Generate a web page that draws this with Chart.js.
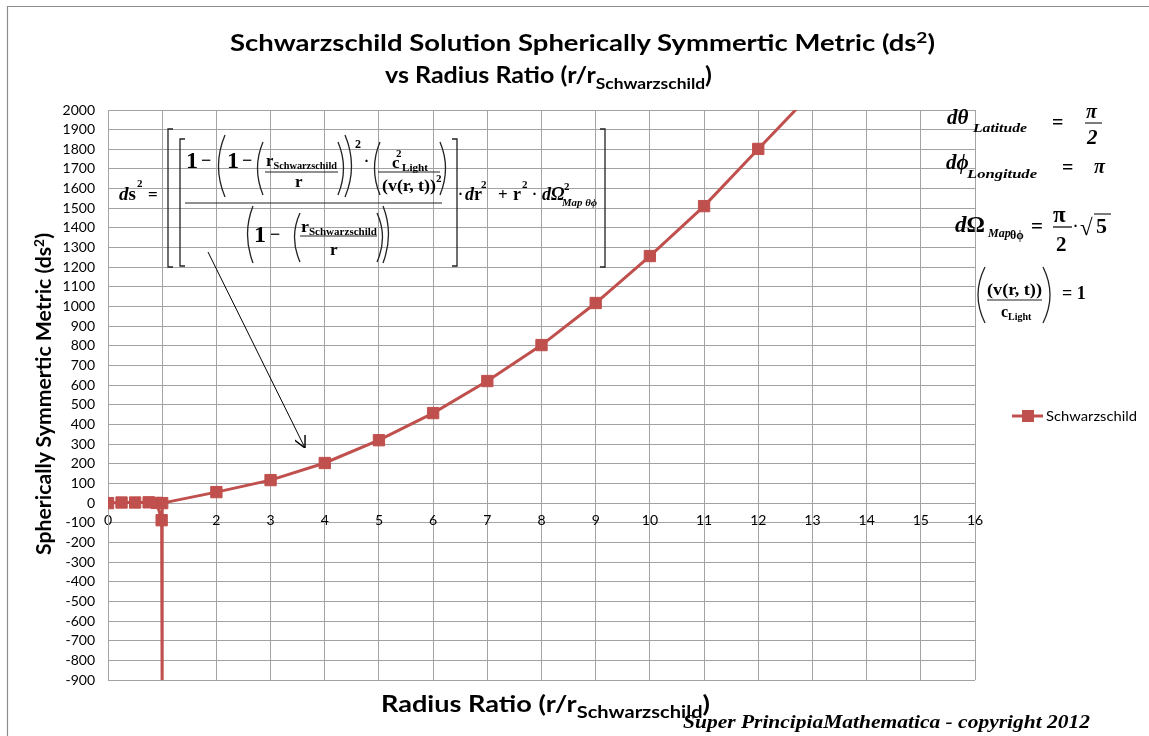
<!DOCTYPE html>
<html>
<head>
<meta charset="utf-8">
<script src="https://cdn.jsdelivr.net/npm/chart.js@4.4.1/dist/chart.umd.min.js"></script>
<style>
  html, body { margin: 0; padding: 0; background: #fff; }
  #wrap { position: relative; width: 1149px; height: 736px; overflow: hidden; }
  #graph { position: absolute; left: 0; top: 0; }
  #over { position: absolute; left: 0; top: 0; pointer-events: none; }
  .lbl { font-family: Lato, "Open Sans", sans-serif; font-weight: bold; fill: #000; }
  .mt { font-family: "Liberation Serif", "DejaVu Serif", serif; font-weight: bold; fill: #000; }
  .it { font-style: italic; }
  .pr { fill: none; stroke: #222; stroke-width: 1.3; }
</style>
</head>
<body>
<div id="wrap">
  <canvas id="graph" width="1149" height="736"></canvas>
  <svg id="over" width="1149" height="736" xmlns="http://www.w3.org/2000/svg">
    <defs>
      <marker id="flecha" viewBox="0 0 10 10" refX="10" refY="5" markerWidth="12" markerHeight="12" orient="auto" markerUnits="userSpaceOnUse">
        <path d="M0,0 L10,5 L0,10" fill="none" stroke="#000" stroke-width="1.2"/>
      </marker>
    </defs>
    <!-- marco exterior -->
    <path d="M7.5 736 V6.5 H1149" fill="none" stroke="#8c8c8c" stroke-width="1.2"/>

    <!-- titulo -->
    <text class="lbl" x="230" y="51" font-size="23" textLength="705" lengthAdjust="spacingAndGlyphs">Schwarzschild Solution Spherically Symmertic Metric (ds<tspan dy="-8" font-size="16">2</tspan><tspan dy="8">)</tspan></text>
    <text class="lbl" x="385" y="83" font-size="23" textLength="327" lengthAdjust="spacingAndGlyphs">vs Radius Ratio (r/r<tspan dy="6" font-size="16">Schwarzschild</tspan><tspan dy="-6">)</tspan></text>

    <!-- titulos de ejes -->
    <text class="lbl" font-size="20" x="0" y="0" textLength="322" lengthAdjust="spacingAndGlyphs" transform="translate(51,555) rotate(-90)">Spherically Symmertic Metric (ds<tspan dy="-7" font-size="13">2</tspan><tspan dy="7">)</tspan></text>
    <text class="lbl" x="381" y="712" font-size="23" textLength="329" lengthAdjust="spacingAndGlyphs">Radius Ratio (r/r<tspan dy="6" font-size="17">Schwarzschild</tspan><tspan dy="-6">)</tspan></text>

    <!-- leyenda -->
    <line x1="1012" y1="416" x2="1043" y2="416" stroke="#C0504D" stroke-width="3"/>
    <rect x="1022" y="410" width="12" height="12" fill="#C0504D"/>
    <text x="1046" y="421" font-family="Lato, sans-serif" font-size="14" fill="#000" textLength="91" lengthAdjust="spacingAndGlyphs">Schwarzschild</text>

    <!-- pie -->
    <text class="mt it" x="683" y="728" font-size="19" textLength="407" lengthAdjust="spacingAndGlyphs">Super PrincipiaMathematica - copyright 2012</text>

    <!-- flecha -->
    <line x1="208" y1="252" x2="305" y2="448" stroke="#000" stroke-width="1" marker-end="url(#flecha)"/>

    <!-- formula principal -->
    <text class="mt" x="119" y="200" font-size="19"><tspan class="it">d</tspan>s</text>
    <text class="mt" x="137" y="187" font-size="11">2</text>
    <text class="mt" x="148" y="200" font-size="17">=</text>
    <path class="pr" d="M173 129 H168 V267 H173"/>
    <path class="pr" d="M600 129 H605 V267 H600"/>
    <path class="pr" d="M185 139 H180 V266 H185"/>
    <path class="pr" d="M452 139 H457 V266 H452"/>

    <text class="mt" x="186" y="168" font-size="24">1</text>
    <text class="mt" x="201" y="166" font-size="18">−</text>
    <path class="pr" d="M225 135 Q212 166 225 197"/>
    <text class="mt" x="227" y="168" font-size="24">1</text>
    <text class="mt" x="242" y="166" font-size="18">−</text>
    <path class="pr" d="M263 142 Q252 168 263 195"/>
    <text class="mt" x="266" y="166" font-size="17" textLength="71" lengthAdjust="spacingAndGlyphs">r<tspan dy="3" font-size="10.5">Schwarzschild</tspan></text>
    <line x1="265" y1="172" x2="338" y2="172" stroke="#222" stroke-width="1.2"/>
    <text class="mt" x="295" y="187" font-size="17">r</text>
    <path class="pr" d="M338 142 Q349 168 338 195"/>
    <path class="pr" d="M345 135 Q358 166 345 197"/>
    <text class="mt" x="355" y="148" font-size="12">2</text>
    <text class="mt" x="364" y="166" font-size="15">·</text>
    <path class="pr" d="M380 142 Q369 168 380 195"/>
    <text class="mt" x="392" y="168" font-size="17">c</text>
    <text class="mt" x="396" y="157" font-size="11">2</text>
    <text class="mt" x="402" y="171" font-size="11" textLength="26" lengthAdjust="spacingAndGlyphs">Light</text>
    <line x1="378" y1="172" x2="440" y2="172" stroke="#222" stroke-width="1.2"/>
    <text class="mt" x="382" y="191" font-size="16" textLength="54" lengthAdjust="spacingAndGlyphs">(v(r, t))</text>
    <text class="mt" x="436" y="182" font-size="11">2</text>
    <path class="pr" d="M440 142 Q451 168 440 195"/>
    <line x1="185" y1="203" x2="442" y2="203" stroke="#222" stroke-width="1.2"/>

    <path class="pr" d="M253 206 Q242 234 253 263"/>
    <text class="mt" x="254" y="242" font-size="24">1</text>
    <text class="mt" x="270" y="240" font-size="18">−</text>
    <path class="pr" d="M300 213 Q289 237 300 262"/>
    <text class="mt" x="301" y="232" font-size="17" textLength="76" lengthAdjust="spacingAndGlyphs">r<tspan dy="3" font-size="10.5">Schwarzschild</tspan></text>
    <line x1="300" y1="236" x2="377" y2="236" stroke="#222" stroke-width="1.2"/>
    <text class="mt" x="330" y="255" font-size="17">r</text>
    <path class="pr" d="M377 213 Q388 237 377 262"/>
    <path class="pr" d="M383 206 Q394 234 383 263"/>

    <text class="mt" x="458" y="199" font-size="15">·</text>
    <text class="mt" x="465" y="200" font-size="18"><tspan class="it">d</tspan>r</text>
    <text class="mt" x="481" y="188" font-size="11">2</text>
    <text class="mt" x="498" y="200" font-size="17">+</text>
    <text class="mt" x="513" y="200" font-size="18">r</text>
    <text class="mt" x="522" y="188" font-size="11">2</text>
    <text class="mt" x="532" y="199" font-size="15">·</text>
    <text class="mt it" x="542" y="200" font-size="18">dΩ</text>
    <text class="mt" x="564" y="190" font-size="11">2</text>
    <text class="mt it" x="562" y="206" font-size="10" textLength="35" lengthAdjust="spacingAndGlyphs">Map θϕ</text>

    <!-- formulas a la derecha -->
    <text class="mt it" x="947" y="124" font-size="21">dθ</text>
    <text class="mt it" x="973" y="132" font-size="12" font-weight="normal" textLength="54" lengthAdjust="spacingAndGlyphs">Latitude</text>
    <text class="mt" x="1052" y="129" font-size="20" font-weight="normal">=</text>
    <text class="mt it" x="1086" y="118" font-size="20" font-weight="normal">π</text>
    <line x1="1085" y1="123" x2="1102" y2="123" stroke="#222" stroke-width="1.2"/>
    <text class="mt it" x="1087" y="144" font-size="21">2</text>

    <text class="mt it" x="946" y="169" font-size="21">dϕ</text>
    <text class="mt it" x="967" y="178" font-size="12" font-weight="normal" textLength="70" lengthAdjust="spacingAndGlyphs">Longitude</text>
    <text class="mt" x="1062" y="174" font-size="20" font-weight="normal">=</text>
    <text class="mt it" x="1094" y="173" font-size="20" font-weight="normal">π</text>

    <text class="mt" x="955" y="232" font-size="23"><tspan class="it">d</tspan>Ω</text>
    <text class="mt it" x="988" y="237" font-size="12" font-weight="normal">Map</text>
    <text class="mt" x="1010" y="239" font-size="12">θϕ</text>
    <text class="mt" x="1031" y="233" font-size="21">=</text>
    <text class="mt" x="1053" y="222" font-size="23">π</text>
    <line x1="1053" y1="227" x2="1072" y2="227" stroke="#222" stroke-width="1.4"/>
    <text class="mt" x="1056" y="251" font-size="21">2</text>
    <text class="mt" x="1073" y="231" font-size="15">·</text>
    <text class="mt" x="1080" y="235" font-size="23" font-weight="normal">√</text>
    <line x1="1094" y1="214" x2="1111" y2="214" stroke="#222" stroke-width="1.2"/>
    <text class="mt" x="1096" y="233" font-size="22">5</text>

    <path class="pr" d="M985 267 Q971 295 985 323"/>
    <text class="mt" x="987" y="295" font-size="16" textLength="55" lengthAdjust="spacingAndGlyphs">(v(r, t))</text>
    <line x1="987" y1="300" x2="1042" y2="300" stroke="#222" stroke-width="1.2"/>
    <text class="mt" x="1001" y="317" font-size="16">c<tspan dy="3" font-size="10">Light</tspan></text>
    <path class="pr" d="M1043 267 Q1057 295 1043 323"/>
    <text class="mt" x="1062" y="299" font-size="18">= 1</text>
  </svg>
</div>
<script>
// r / r_Schwarzschild
const radiusRatio = [0, 0.25, 0.5, 0.75, 0.9, 0.99, 0.999, 1, 2, 3, 4, 5, 6, 7, 8, 9, 10, 11, 12, 13];
// ds^2 (en r = 1 la celda da error y se dibuja en 0)
const metricValues = [0, 3, 3, 4, 1, -87, -986, 0, 56, 117, 204, 320, 458, 621, 804, 1018, 1257, 1511, 1802, 2090];

const xMin = 0, xMax = 16, xStep = 1;
const yMin = -900, yMax = 2000, yStep = 100;

const rojo = '#C0504D';
const rejilla = '#a3a3a3';

const puntos = radiusRatio.map((r, i) => ({ x: r, y: metricValues[i] }));

const canvas = document.getElementById('graph');

const grafico = new Chart(canvas, {
    type: 'scatter',
    data: {
        datasets: [{
            label: 'Schwarzschild',
            data: puntos,
            showLine: true,
            borderColor: rojo,
            backgroundColor: rojo,
            borderWidth: 3,
            pointStyle: 'rect',
            pointRadius: 8,
            pointHoverRadius: 8,
            pointBorderWidth: 1,
            pointBorderColor: rojo,
            tension: 0
        }]
    },
    options: {
        responsive: false,
        animation: false,
        devicePixelRatio: 1,
        layout: { padding: { left: 8, top: 110, right: 174, bottom: 56 } },
        plugins: {
            legend: { display: false },
            tooltip: { enabled: false }
        },
        scales: {
            x: {
                type: 'linear',
                position: { y: 0 },
                min: xMin,
                max: xMax,
                afterFit: s => { s.height = 0; },
                ticks: {
                    stepSize: xStep,
                    color: '#000',
                    padding: 9,
                    font: { family: 'Lato', size: 14 },
                    callback: v => String(v)
                },
                grid: { color: rejilla, drawTicks: false },
                border: { color: rejilla }
            },
            y: {
                type: 'linear',
                min: yMin,
                max: yMax,
                afterFit: s => { s.width = 100; },
                ticks: {
                    stepSize: yStep,
                    autoSkip: false,
                    color: '#000',
                    padding: 13,
                    font: { family: 'Lato', size: 14 },
                    callback: v => String(v)
                },
                grid: { color: rejilla, drawTicks: false },
                border: { color: rejilla }
            }
        }
    }
});
</script>
</body>
</html>
